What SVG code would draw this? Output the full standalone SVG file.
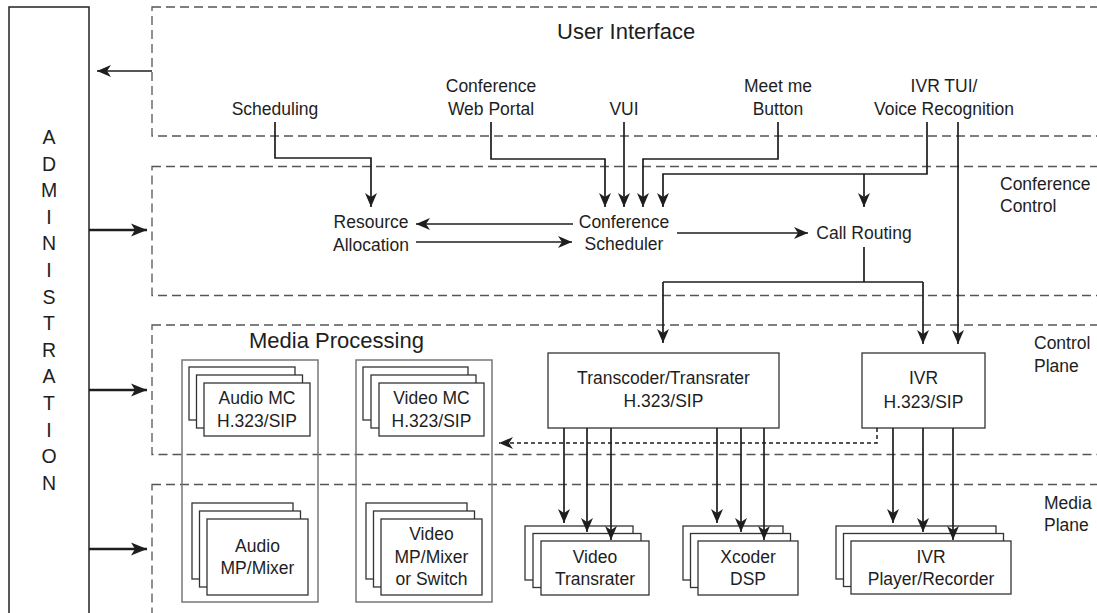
<svg xmlns="http://www.w3.org/2000/svg" width="1097" height="613" viewBox="0 0 1097 613">
  <style>
    text { font-family: "Liberation Sans", Arial, Helvetica, sans-serif; fill: #1e1e1e; }
    .lbl { font-size: 17.5px; text-anchor: middle; }
    .side { font-size: 17.5px; }
    .title { font-size: 22px; }
    .adm { font-size: 19.5px; text-anchor: middle; }
    .zone { fill: none; stroke: #555; stroke-width: 1.3; stroke-dasharray: 9 5; }
    .box { fill: #fff; stroke: #333; stroke-width: 1.3; }
    .group { fill: none; stroke: #777; stroke-width: 1.5; }
    .wire { fill: none; stroke: #1e1e1e; stroke-width: 1.7; }
    .wire-a { fill: none; stroke: #1e1e1e; stroke-width: 1.7; marker-end: url(#head); }
    .adm-a { fill: none; stroke: #1e1e1e; stroke-width: 2.4; marker-end: url(#headL); }
    .dot-a { fill: none; stroke: #1e1e1e; stroke-width: 1.5; stroke-dasharray: 4 3; marker-end: url(#head); }
  </style>
  <defs>
    <marker id="head" markerUnits="userSpaceOnUse" viewBox="0 0 15 13" markerWidth="15" markerHeight="13" refX="14" refY="6.5" orient="auto">
      <path d="M0,0.5 L14,6.5 L0,12.5 L4,6.5 z" fill="#1e1e1e"/>
    </marker>
    <marker id="headL" markerUnits="userSpaceOnUse" viewBox="0 0 17 14" markerWidth="17" markerHeight="14" refX="16" refY="7" orient="auto">
      <path d="M0,0.5 L16,7 L0,13.5 L4,7 z" fill="#1e1e1e"/>
    </marker>
  </defs>

  <rect width="1097" height="613" fill="#fff"/>

  <!-- plane zones -->
  <g id="zones">
    <rect class="zone" x="152" y="7" width="1000" height="129"/>
    <rect class="zone" x="152" y="166.5" width="1000" height="129"/>
    <rect class="zone" x="152" y="325" width="1000" height="129.5"/>
    <rect class="zone" x="152" y="484.5" width="1000" height="200"/>
    <text class="title" x="557" y="39">User Interface</text>
    <text class="side" x="1000" y="190">Conference</text>
    <text class="side" x="1000" y="212">Control</text>
    <text class="side" x="1034" y="349">Control</text>
    <text class="side" x="1034" y="372">Plane</text>
    <text class="side" x="1044" y="509">Media</text>
    <text class="side" x="1044" y="531">Plane</text>
  </g>

  <!-- administration column -->
  <g id="administration">
    <rect x="9" y="7" width="80" height="640" fill="none" stroke="#222" stroke-width="1.5"/>
    <text class="adm" x="49" y="144">A</text>
    <text class="adm" x="49" y="170.6">D</text>
    <text class="adm" x="49" y="197.2">M</text>
    <text class="adm" x="49" y="223.8">I</text>
    <text class="adm" x="49" y="250.4">N</text>
    <text class="adm" x="49" y="277">I</text>
    <text class="adm" x="49" y="303.6">S</text>
    <text class="adm" x="49" y="330.2">T</text>
    <text class="adm" x="49" y="356.8">R</text>
    <text class="adm" x="49" y="383.4">A</text>
    <text class="adm" x="49" y="410">T</text>
    <text class="adm" x="49" y="436.6">I</text>
    <text class="adm" x="49" y="463.2">O</text>
    <text class="adm" x="49" y="489.8">N</text>
  </g>

  <!-- user interface entries -->
  <g id="scheduling"><text class="lbl" x="275" y="115">Scheduling</text></g>
  <g id="web-portal"><text class="lbl" x="491" y="92">Conference</text><text class="lbl" x="491" y="115">Web Portal</text></g>
  <g id="vui"><text class="lbl" x="624" y="115">VUI</text></g>
  <g id="meet-me"><text class="lbl" x="778" y="92">Meet me</text><text class="lbl" x="778" y="115">Button</text></g>
  <g id="ivr-tui"><text class="lbl" x="944" y="92">IVR TUI/</text><text class="lbl" x="944" y="115">Voice Recognition</text></g>

  <!-- conference control entries -->
  <g id="resource-allocation"><text class="lbl" x="371" y="228">Resource</text><text class="lbl" x="371" y="251">Allocation</text></g>
  <g id="conference-scheduler"><text class="lbl" x="624" y="228">Conference</text><text class="lbl" x="624" y="250">Scheduler</text></g>
  <g id="call-routing"><text class="lbl" x="864" y="239">Call Routing</text></g>

  <!-- media processing -->
  <g id="media-processing">
    <text class="title" x="249" y="348">Media Processing</text>
    <rect class="group" x="182" y="360" width="136" height="242"/>
    <rect class="group" x="356" y="360" width="136" height="242"/>
  </g>
  <g id="audio-mc">
    <rect class="box" x="189" y="367" width="106" height="53"/>
    <rect class="box" x="196.5" y="375" width="106" height="53"/>
    <rect class="box" x="204" y="383" width="106" height="53"/>
    <text class="lbl" x="257" y="404">Audio MC</text>
    <text class="lbl" x="257" y="427">H.323/SIP</text>
  </g>
  <g id="video-mc">
    <rect class="box" x="363" y="367" width="105" height="53"/>
    <rect class="box" x="371" y="375" width="105" height="53"/>
    <rect class="box" x="379" y="383" width="105" height="53"/>
    <text class="lbl" x="431.5" y="404">Video MC</text>
    <text class="lbl" x="431.5" y="427">H.323/SIP</text>
  </g>
  <g id="audio-mp">
    <rect class="box" x="192" y="503" width="101" height="76"/>
    <rect class="box" x="199.5" y="511" width="101" height="76"/>
    <rect class="box" x="207" y="519" width="101" height="76"/>
    <text class="lbl" x="257.5" y="552">Audio</text>
    <text class="lbl" x="257.5" y="574">MP/Mixer</text>
  </g>
  <g id="video-mp">
    <rect class="box" x="366" y="503" width="101" height="76"/>
    <rect class="box" x="373.5" y="511" width="101" height="76"/>
    <rect class="box" x="381" y="519" width="101" height="76"/>
    <text class="lbl" x="431.5" y="540">Video</text>
    <text class="lbl" x="431.5" y="563">MP/Mixer</text>
    <text class="lbl" x="431.5" y="585">or Switch</text>
  </g>

  <!-- control plane servers -->
  <g id="transcoder">
    <rect class="box" x="548" y="353" width="231" height="75"/>
    <text class="lbl" x="663.5" y="384">Transcoder/Transrater</text>
    <text class="lbl" x="663.5" y="407">H.323/SIP</text>
  </g>
  <g id="ivr">
    <rect class="box" x="862" y="353" width="123" height="75"/>
    <text class="lbl" x="923.5" y="384">IVR</text>
    <text class="lbl" x="923.5" y="408">H.323/SIP</text>
  </g>

  <!-- media plane resources -->
  <g id="video-transrater">
    <rect class="box" x="525" y="526" width="108" height="54"/>
    <rect class="box" x="533" y="533.5" width="108" height="54"/>
    <rect class="box" x="541" y="541" width="108" height="54"/>
    <text class="lbl" x="595" y="563">Video</text>
    <text class="lbl" x="595" y="585">Transrater</text>
  </g>
  <g id="xcoder-dsp">
    <rect class="box" x="683" y="526" width="100" height="54"/>
    <rect class="box" x="690.5" y="533.5" width="100" height="54"/>
    <rect class="box" x="698" y="541" width="100" height="54"/>
    <text class="lbl" x="748" y="563">Xcoder</text>
    <text class="lbl" x="748" y="585">DSP</text>
  </g>
  <g id="ivr-player">
    <rect class="box" x="836" y="526" width="160" height="53"/>
    <rect class="box" x="843.5" y="533.5" width="160" height="53"/>
    <rect class="box" x="851" y="541" width="160" height="53"/>
    <text class="lbl" x="931" y="563">IVR</text>
    <text class="lbl" x="931" y="585">Player/Recorder</text>
  </g>

  <!-- connectors -->
  <g id="connectors">
    <!-- administration links -->
    <path class="wire-a" d="M152,71 H97"/>
    <path class="adm-a" d="M89,230 H147"/>
    <path class="adm-a" d="M89,390 H147"/>
    <path class="adm-a" d="M89,549 H147"/>

    <!-- user interface to conference control -->
    <path class="wire-a" d="M275,122 V158 H371 V207"/>
    <path class="wire-a" d="M491,122 V159 H605 V207"/>
    <path class="wire-a" d="M624,122 V207"/>
    <path class="wire-a" d="M778,122 V159 H643 V207"/>
    <path class="wire-a" d="M927,122 V174 H663 V207"/>
    <path class="wire-a" d="M864,174 V207"/>
    <path class="wire-a" d="M958,122 V344"/>

    <!-- conference control internals -->
    <path class="wire-a" d="M573,224 H416"/>
    <path class="wire-a" d="M416,242 H572"/>
    <path class="wire-a" d="M677,233 H808"/>

    <!-- call routing to servers -->
    <path class="wire" d="M864,247 V282 M663,282 H923"/>
    <path class="wire-a" d="M663,282 V343"/>
    <path class="wire-a" d="M923,282 V344"/>

    <!-- IVR signalling back to media processing -->
    <path class="dot-a" d="M877,428 V443 H499"/>

    <!-- servers to media plane resources -->
    <path class="wire-a" d="M564,428 V523"/>
    <path class="wire-a" d="M587,428 V532"/>
    <path class="wire-a" d="M611,428 V540"/>
    <path class="wire-a" d="M717,428 V523"/>
    <path class="wire-a" d="M741,428 V532"/>
    <path class="wire-a" d="M764,428 V540"/>
    <path class="wire-a" d="M893,428 V523"/>
    <path class="wire-a" d="M923,428 V532"/>
    <path class="wire-a" d="M953,428 V540"/>
  </g>
</svg>
